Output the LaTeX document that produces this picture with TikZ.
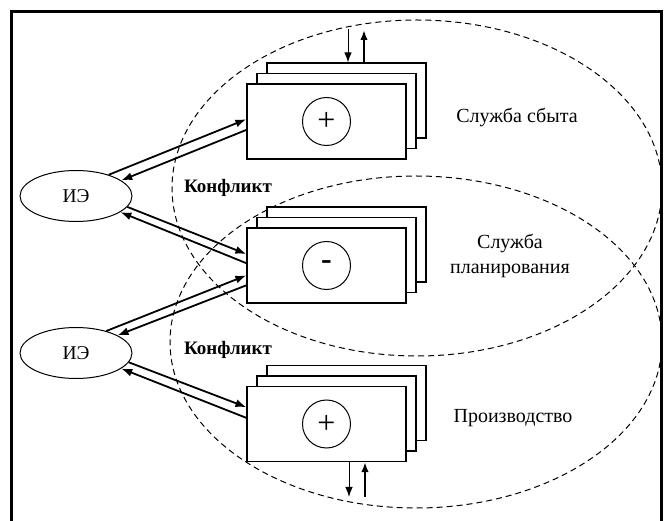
\documentclass[tikz,border=0pt]{standalone}
\usepackage{fontspec}
\setmainfont{Liberation Serif}
\usetikzlibrary{arrows.meta,calc,shapes.geometric}

\begin{document}
\begin{tikzpicture}[x=1pt,y=-1pt,
  card/.style={draw,line width=1.2pt,fill=white,minimum width=159pt,minimum height=75pt,inner sep=0pt},
  sign/.style={draw,circle,line width=1pt,minimum size=48pt,inner sep=0pt,font=\fontsize{32}{32}\selectfont},
  agent/.style={draw,ellipse,line width=1pt,minimum width=112pt,minimum height=51pt,inner sep=0pt,font=\fontsize{19.5}{20}\selectfont},
  zone/.style={draw,line width=1pt,dash pattern=on 6pt off 4pt},
  label/.style={font=\fontsize{20}{25}\selectfont,align=center},
  clash/.style={font=\fontsize{19}{20}\selectfont\bfseries},
  link/.style={line width=1.8pt,-{Latex[length=11pt,width=8pt]}},
  inflow/.style={line width=1pt,-{Latex[length=10pt,width=7.5pt]}},
  outflow/.style={line width=2pt,-{Latex[length=10pt,width=7.5pt]}}
]
\clip (0,0) rectangle (670,521);
\useasboundingbox (0,0) rectangle (670,521);

% frame (its lower edge lies below the page)
\draw[line width=3pt] (11.5,11.5) rectangle (661.5,540);

% departmental zones
\draw[zone] (417,188) ellipse [x radius=245, y radius=168];
\draw[zone] (416,342) ellipse [x radius=246, y radius=166];

% stacks of documents
\foreach \n/\cy in {s/121.5, p/265.5, m/424}{
  \node[card] (\n3) at (346.5,\cy-21) {};
  \node[card] (\n2) at (336.5,\cy-10.5) {};
  \node[card] (\n1) at (326.5,\cy) {};
}
\node[sign] (sgs) at (s1) {+};
\node[sign] (sgp) at (p1) {\textbf{-}};
\node[sign] (sgm) at (m1) {+};

% economic agents
\node[agent] (ie1) at (76,196) {ИЭ};
\node[agent] (ie2) at (76,353) {ИЭ};

% department names
\node[label] (ls) at (517,118) {Служба сбыта};
\node[label] (lp) at (510,256) {Служба\\планирования};
\node[label] (lm) at (513,418) {Производство};

\node[clash] (c1) at (228,188) {Конфликт};
\node[clash] (c2) at (228,350) {Конфликт};

% exchanges between agents and departments
\draw[link] (ie1.33) -- ($(s1.north west)!0.47!(s1.south west)$);
\draw[link] ($(s1.north west)!0.61!(s1.south west)$) -- (ie1.19);
\draw[link] (ie1.-12) -- ($(p1.north west)!0.35!(p1.south west)$);
\draw[link] ($(p1.north west)!0.47!(p1.south west)$) -- (ie1.-20);
\draw[link] (ie2.36) -- ($(p1.north west)!0.63!(p1.south west)$);
\draw[link] ($(p1.north west)!0.76!(p1.south west)$) -- (ie2.23);
\draw[link] (ie2.-10) -- ($(m1.north west)!0.28!(m1.south west)$);
\draw[link] ($(m1.north west)!0.42!(m1.south west)$) -- (ie2.-19);

% external input and output
\coordinate (tin) at (348,29);
\coordinate (tout) at (364,30);
\coordinate (bin) at (349,497);
\coordinate (bout) at (365,497);
\draw[inflow] (tin) -- (tin |- s3.north);
\draw[outflow] (tout |- s3.north) -- (tout);
\draw[inflow] (bin |- m1.south) -- (bin);
\draw[outflow] (bout) -- (bout |- m1.south);
\end{tikzpicture}
\end{document}
